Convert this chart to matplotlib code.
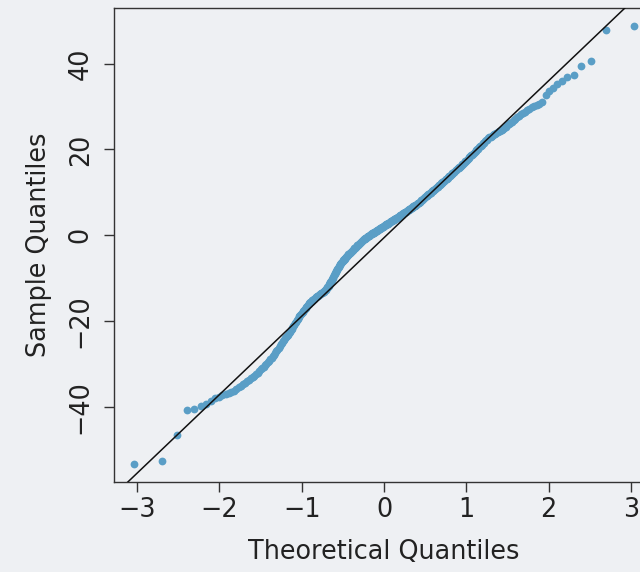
import matplotlib.pyplot as plt
from statistics import NormalDist

# sorted sample values (n ~ 425)
lower_tail = [-53.5, -52.7, -46.7, -40.9, -40.6, -39.9, -39.4, -38.8, -38.1, -37.7,
              -37.4, -37.1, -36.9, -36.6, -36.3, -35.9, -35.5, -35.1, -34.7, -34.4]

body = [-34.1, -33.8, -33.4, -33.1, -32.8, -32.4, -32.1, -31.7, -31.3, -31.0,
        -30.7, -30.3, -30.0, -29.6, -29.3, -28.9, -28.6, -28.2, -27.9, -27.5,
        -27.1, -26.7, -26.3, -25.9, -25.5, -25.2, -24.8, -24.5, -24.1, -23.8,
        -23.5, -23.2, -22.8, -22.5, -22.2, -21.9, -21.6, -21.2, -20.9, -20.6,
        -20.2, -19.9, -19.6, -19.2, -18.9, -18.7, -18.4, -18.2, -17.9, -17.7,
        -17.5, -17.2, -17.0, -16.7, -16.5, -16.3, -16.1, -15.9, -15.7, -15.5,
        -15.4, -15.2, -15.1, -14.9, -14.8, -14.7, -14.5, -14.4, -14.2, -14.1,
        -14.0, -13.9, -13.8, -13.7, -13.6, -13.5, -13.4, -13.3, -13.2, -13.1,
        -12.9, -12.8, -12.6, -12.4, -12.2, -12.0, -11.8, -11.5, -11.2, -10.9,
        -10.7, -10.4, -10.2, -9.9, -9.7, -9.4, -9.1, -8.8, -8.6, -8.3,
        -8.1, -7.8, -7.6, -7.4, -7.2, -7.0, -6.8, -6.6, -6.4, -6.2,
        -6.1, -5.9, -5.8, -5.6, -5.5, -5.4, -5.2, -5.1, -4.9, -4.8,
        -4.7, -4.5, -4.4, -4.2, -4.1, -4.0, -3.9, -3.7, -3.6, -3.5,
        -3.4, -3.2, -3.1, -3.0, -2.9, -2.8, -2.7, -2.5, -2.4, -2.3,
        -2.2, -2.1, -2.0, -1.9, -1.8, -1.6, -1.5, -1.4, -1.3, -1.2,
        -1.1, -1.0, -0.9, -0.8, -0.7, -0.7, -0.6, -0.5, -0.4, -0.3,
        -0.2, -0.1, -0.1, 0.0, 0.1, 0.2, 0.2, 0.3, 0.4, 0.5,
        0.6, 0.6, 0.7, 0.8, 0.8, 0.9, 1.0, 1.0, 1.1, 1.2,
        1.3, 1.4, 1.4, 1.5, 1.6, 1.7, 1.7, 1.8, 1.9, 1.9,
        2.0, 2.1, 2.2, 2.2, 2.3, 2.3, 2.4, 2.5, 2.5, 2.6,
        2.7, 2.8, 2.8, 2.9, 3.0, 3.1, 3.2, 3.2, 3.3, 3.4,
        3.5, 3.5, 3.6, 3.7, 3.7, 3.8, 3.9, 4.0, 4.0, 4.1,
        4.2, 4.3, 4.3, 4.4, 4.5, 4.6, 4.7, 4.7, 4.8, 4.9,
        5.0, 5.1, 5.1, 5.2, 5.3, 5.4, 5.5, 5.5, 5.6, 5.7,
        5.8, 5.9, 5.9, 6.0, 6.1, 6.2, 6.3, 6.3, 6.4, 6.5,
        6.6, 6.7, 6.7, 6.8, 6.9, 7.0, 7.1, 7.1, 7.2, 7.3,
        7.4, 7.5, 7.6, 7.7, 7.8, 8.0, 8.1, 8.2, 8.3, 8.4,
        8.5, 8.6, 8.7, 8.8, 8.9, 9.1, 9.2, 9.3, 9.4, 9.5,
        9.6, 9.7, 9.8, 9.9, 10.0, 10.2, 10.3, 10.4, 10.5, 10.6,
        10.7, 10.8, 11.0, 11.1, 11.2, 11.3, 11.4, 11.6, 11.7, 11.8,
        11.9, 12.1, 12.2, 12.3, 12.5, 12.6, 12.7, 12.8, 13.0, 13.1,
        13.2, 13.4, 13.5, 13.7, 13.8, 13.9, 14.1, 14.2, 14.4, 14.5,
        14.7, 14.8, 15.0, 15.1, 15.3, 15.4, 15.6, 15.7, 15.9, 16.0,
        16.2, 16.4, 16.5, 16.7, 16.9, 17.1, 17.3, 17.4, 17.6, 17.8,
        18.0, 18.2, 18.4, 18.6, 18.8, 19.0, 19.2, 19.4, 19.6, 19.8,
        20.0, 20.2, 20.5, 20.7, 20.9, 21.1, 21.4, 21.6, 21.9, 22.1,
        22.3, 22.6, 22.8, 23.0, 23.2, 23.4, 23.5, 23.7, 23.8, 24.0,
        24.2, 24.4, 24.6, 24.8, 25.0, 25.3, 25.6, 25.9, 26.2, 26.5,
        26.8, 27.2, 27.5, 27.9, 28.2, 28.5, 28.8, 29.1, 29.5, 29.8,
        30.1, 30.4, 30.7, 31.0]

upper_tail = [32.6, 33.6, 34.3, 35.2, 36.0, 36.8, 37.4, 39.5, 40.7, 47.9, 48.9]

x_ticks = [-3, -2, -1, 0, 1, 2, 3]
y_ticks = [-40, -20, 0, 20, 40]

# reference line as drawn on the chart
line_intercept = -0.6
line_slope = 18.3

sample = lower_tail + body + upper_tail
n = len(sample)
theoretical = [NormalDist().inv_cdf((i - 0.5) / n) for i in range(1, n + 1)]

BG = '#eef0f3'
INK = '#222222'

plt.rcParams['font.family'] = ['DejaVu Sans']

fig = plt.figure(figsize=(6.4, 5.72), dpi=100, facecolor=BG)
ax = fig.add_axes([0.1778, 0.1573, 0.8444, 0.8287], facecolor=BG)

ax.plot(theoretical, sample, 'o', ms=5.6, color='#5a9ec6', mec='none', zorder=2)
ax.axline((0, line_intercept), slope=line_slope, color='#111111', lw=1.1, zorder=3)

# R style 4% padding on both axes
xr = max(theoretical) - min(theoretical)
yr = max(sample) - min(sample)
ax.set_xlim(min(theoretical) - 0.04 * xr, max(theoretical) + 0.04 * xr)
ax.set_ylim(min(sample) - 0.04 * yr, max(sample) + 0.04 * yr)

ax.set_xticks(x_ticks)
ax.set_yticks(y_ticks)
ax.tick_params(axis='both', direction='out', length=7.5, width=1.0, color='#333333',
               labelsize=18.4, labelcolor=INK)
ax.tick_params(axis='x', pad=3.5)
ax.tick_params(axis='y', pad=7, labelrotation=90)
for lab in ax.get_yticklabels():
    lab.set_va('center')

for sp in ax.spines.values():
    sp.set_linewidth(1.0)
    sp.set_color('#333333')

ax.set_xlabel('Theoretical Quantiles', fontsize=18.4, color=INK, labelpad=11)
ax.set_ylabel('Sample Quantiles', fontsize=18.4, color=INK, labelpad=11.5)

fig.savefig('out.png', dpi=100, facecolor=BG)
